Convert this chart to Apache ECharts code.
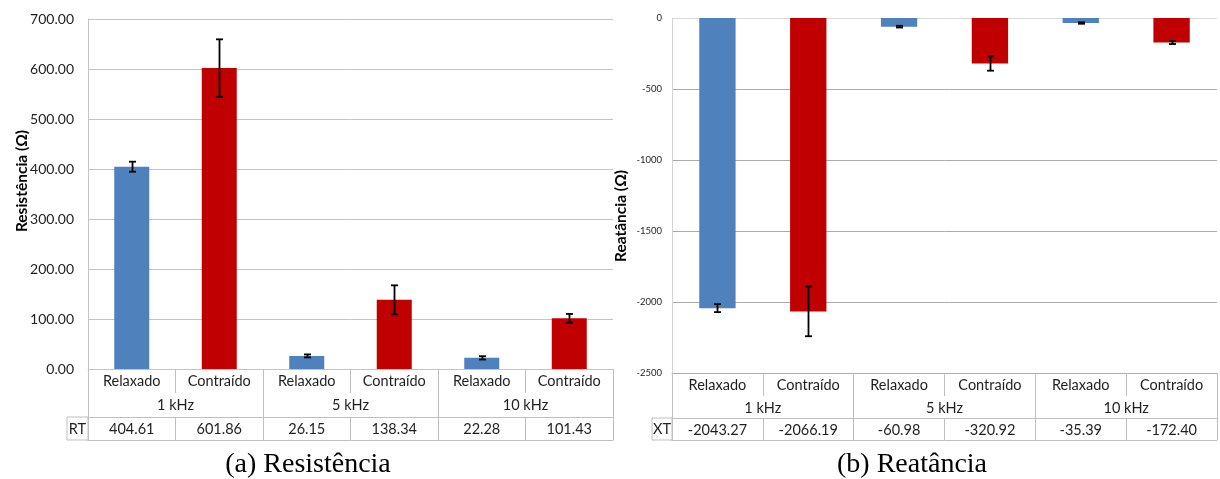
<!DOCTYPE html>
<html>
<head>
<meta charset="utf-8">
<script src="https://cdn.jsdelivr.net/npm/echarts@6/dist/echarts.min.js"></script>
<style>
  html, body { margin: 0; padding: 0; background: #fff; }
  #chart { width: 1220px; height: 479px; }
</style>
</head>
<body>
<div id="chart"></div>
<script>
// Measurement conditions and frequency groups shared by both panels
const conditions = ['Relaxado', 'Contraído', 'Relaxado', 'Contraído', 'Relaxado', 'Contraído'];
const frequencies = ['1 kHz', '5 kHz', '10 kHz'];

// Panel (a): resistance means and their deviations (Ω)
const resistance = [404.61, 601.86, 26.15, 138.34, 22.28, 101.43];
const resistanceErr = [10, 57.5, 3, 29, 3.3, 8.7];

// Panel (b): reactance means and their deviations (Ω)
const reactance = [-2043.27, -2066.19, -60.98, -320.92, -35.39, -172.40];
const reactanceErr = [28, 175, 6, 50, 5, 11];

// Axis ranges
const resistanceAxis = { min: 0, max: 700, interval: 100 };
const reactanceAxis = { min: -2500, max: 0, interval: 500 };

// Table row headers, panel captions and axis titles
const rowHeaders = ['RT', 'XT'];
const captions = ['(a) Resistência', '(b) Reatância'];
const axisTitles = ['Resistência (Ω)', 'Reatância (Ω)'];

const BLUE = '#4f81bd';
const RED = '#c00000';
const FONT = 'Lato, "Open Sans", sans-serif';
const TEXT = '#1f1f1f';

const chart = echarts.init(document.getElementById('chart'), null, { renderer: 'canvas' });

// Layout of each panel: plot box plus the data table rows beneath it
const panels = [
  { left: 88, right: 607, top: 19, bottom: 110, row1: 24, row2: 71, row3: 48, line: '#c4c4c4', border: '#bfbfbf', ylabel: 14, ymargin: 14 },
  { left: 672, right: 3, top: 18, bottom: 106, row1: 23, row2: 67, row3: 45, line: '#ababab', border: '#bfbfbf', ylabel: 9.5, ymargin: 10 }
];

function tableAxes(gi, p, values) {
  const lineStyle = { color: p.border, width: 1 };
  const label = { interval: 0, fontSize: 14.5, fontFamily: FONT, color: TEXT };
  return [
    // row 1: condition names, separators between every column
    {
      type: 'category', gridIndex: gi, data: conditions, position: 'bottom',
      axisLine: { show: true, onZero: false, lineStyle: { color: p.line } },
      axisTick: { show: true, alignWithLabel: false, interval: 0, length: p.row1, lineStyle },
      axisLabel: { ...label, margin: 5 },
      splitLine: { show: false }
    },
    // row 2: frequency groups, separators spanning the full table
    {
      type: 'category', gridIndex: gi, data: frequencies, position: 'bottom', offset: 0,
      axisLine: { show: false, onZero: false },
      axisTick: { show: true, alignWithLabel: false, interval: 0, length: p.row2, lineStyle },
      axisLabel: { ...label, margin: p.row1 + 5 },
      splitLine: { show: false }
    },
    // row 3: numeric values
    {
      type: 'category', gridIndex: gi, data: values.map(v => v.toFixed(2)), position: 'bottom', offset: p.row3,
      axisLine: { show: true, onZero: false, lineStyle },
      axisTick: { show: true, alignWithLabel: false, interval: 0, length: p.row2 - p.row3, lineStyle },
      axisLabel: { ...label, margin: 5 },
      splitLine: { show: false }
    },
    // bottom border of the table
    {
      type: 'category', gridIndex: gi, data: conditions, position: 'bottom', offset: p.row2,
      axisLine: { show: true, onZero: false, lineStyle },
      axisTick: { show: false }, axisLabel: { show: false }, splitLine: { show: false }
    }
  ];
}

function errorSeries(xAxisIndex, yAxisIndex, values, errs) {
  return {
    type: 'custom', xAxisIndex, yAxisIndex, z: 5,
    data: values.map((v, i) => [i, v - errs[i], v + errs[i]]),
    renderItem: (params, api) => {
      const lo = api.coord([api.value(0), api.value(1)]);
      const hi = api.coord([api.value(0), api.value(2)]);
      const x = Math.round(lo[0]) + 0.5;
      const cap = 3.5;
      const style = { stroke: '#000', lineWidth: 1.8 };
      return {
        type: 'group',
        children: [
          { type: 'line', shape: { x1: x, y1: lo[1], x2: x, y2: hi[1] }, style },
          { type: 'line', shape: { x1: x - cap, y1: lo[1], x2: x + cap, y2: lo[1] }, style },
          { type: 'line', shape: { x1: x - cap, y1: hi[1], x2: x + cap, y2: hi[1] }, style }
        ]
      };
    }
  };
}

function barSeries(xAxisIndex, yAxisIndex, values) {
  return {
    type: 'bar', xAxisIndex, yAxisIndex, data: values, barWidth: '40%',
    itemStyle: { color: params => (params.dataIndex % 2 === 0 ? BLUE : RED) }
  };
}

const xAxes = [...tableAxes(0, panels[0], resistance), ...tableAxes(1, panels[1], reactance)];

const yAxes = [
  {
    type: 'value', gridIndex: 0, min: resistanceAxis.min, max: resistanceAxis.max, interval: resistanceAxis.interval,
    axisLine: { show: true, lineStyle: { color: panels[0].line } },
    axisTick: { show: false },
    axisLabel: { margin: panels[0].ymargin, fontSize: panels[0].ylabel, fontFamily: FONT, color: TEXT, formatter: v => v.toFixed(2) },
    splitLine: { show: true, lineStyle: { color: panels[0].line } }
  },
  {
    type: 'value', gridIndex: 1, min: reactanceAxis.min, max: reactanceAxis.max, interval: reactanceAxis.interval,
    axisLine: { show: true, lineStyle: { color: '#d4d4d4' } },
    axisTick: { show: false },
    axisLabel: { margin: panels[1].ymargin, fontSize: panels[1].ylabel, fontFamily: FONT, color: TEXT, formatter: v => String(v) },
    splitLine: { show: true, lineStyle: { color: [panels[1].line, panels[1].line, panels[1].line, panels[1].line, panels[1].line, '#d9d9d9'] } }
  }
];

const option = {
  animation: false,
  backgroundColor: '#fff',
  grid: panels.map(p => ({ left: p.left, right: p.right, top: p.top, bottom: p.bottom, containLabel: false })),
  xAxis: xAxes,
  yAxis: yAxes,
  series: [
    barSeries(0, 0, resistance),
    errorSeries(0, 0, resistance, resistanceErr),
    barSeries(4, 1, reactance),
    errorSeries(4, 1, reactance, reactanceErr)
  ],
  graphic: [
    // vertical axis titles
    { type: 'text', x: 22, y: 181, rotation: Math.PI / 2,
      style: { text: axisTitles[0], font: 'bold 15.5px ' + FONT, fill: '#000', align: 'center', verticalAlign: 'middle' } },
    { type: 'text', x: 621, y: 216, rotation: Math.PI / 2,
      style: { text: axisTitles[1], font: 'bold 15.5px ' + FONT, fill: '#000', align: 'center', verticalAlign: 'middle' } },
    // table row header cells
    { type: 'rect', shape: { x: 67, y: 417, width: 21, height: 23 }, style: { fill: 'none', stroke: panels[0].border, lineWidth: 1 } },
    { type: 'text', x: 77.5, y: 429, style: { text: rowHeaders[0], font: '14.5px ' + FONT, fill: TEXT, align: 'center', verticalAlign: 'middle' } },
    { type: 'rect', shape: { x: 652, y: 418, width: 20, height: 22 }, style: { fill: 'none', stroke: panels[1].border, lineWidth: 1 } },
    { type: 'text', x: 662, y: 429, style: { text: rowHeaders[1], font: '14.5px ' + FONT, fill: TEXT, align: 'center', verticalAlign: 'middle' } },
    // panel captions
    { type: 'text', x: 308, y: 465, style: { text: captions[0], font: '28px "Liberation Serif", serif', fill: '#000', align: 'center', verticalAlign: 'middle' } },
    { type: 'text', x: 912, y: 465, style: { text: captions[1], font: '28px "Liberation Serif", serif', fill: '#000', align: 'center', verticalAlign: 'middle' } }
  ]
};

chart.setOption(option);
</script>
</body>
</html>
